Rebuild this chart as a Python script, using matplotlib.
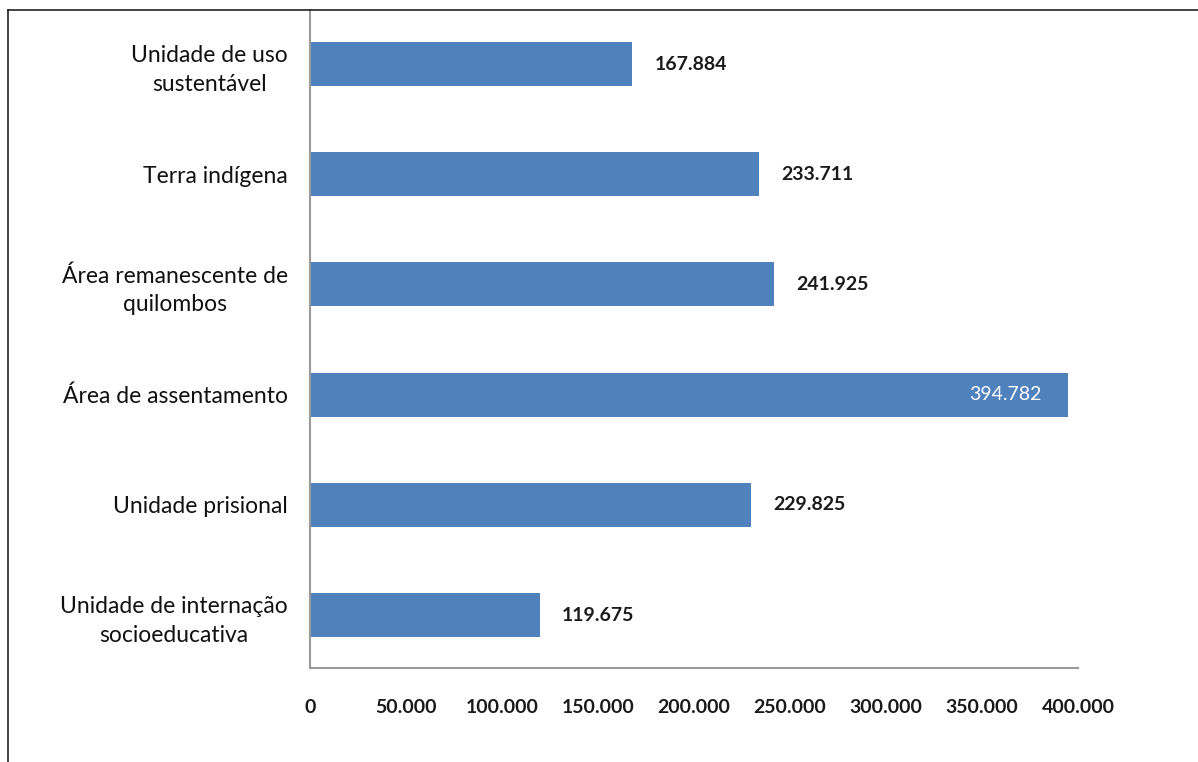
import matplotlib
matplotlib.use("Agg")
import matplotlib.pyplot as plt
from matplotlib.lines import Line2D
from matplotlib.ticker import FuncFormatter

plt.rcParams['font.family'] = ['Lato', 'DejaVu Sans']

# categorias de baixo para cima
categorias = [
    "Unidade de internação\nsocioeducativa",
    "Unidade prisional",
    "Área de assentamento",
    "Área remanescente de\nquilombos",
    "Terra indígena",
    "Unidade de uso\nsustentável",
]
valores = [119675, 229825, 394782, 241925, 233711, 167884]
rotulos = ["119.675", "229.825", "394.782", "241.925", "233.711", "167.884"]
ticks_x = [0, 50000, 100000, 150000, 200000, 250000, 300000, 350000, 400000]

cor_barra = "#4F81BD"
cor_eixo = "#9a9a9a"

fig = plt.figure(figsize=(11.98, 7.62), dpi=100)
ax = fig.add_axes([310 / 1198, 94 / 762, 768 / 1198, 658 / 762])

y = range(len(categorias))
ax.barh(y, valores, height=0.4, color=cor_barra)

ax.set_xlim(0, 400000)
ax.set_ylim(-0.48, 5.49)
ax.set_yticks(list(y))
ax.set_yticklabels(categorias, fontsize=16.5, color="#111111",
                   multialignment="center", linespacing=1.45)
ax.set_xticks(ticks_x)
ax.xaxis.set_major_formatter(FuncFormatter(lambda v, p: "0" if v == 0 else f"{int(v):,}".replace(",", ".")))
for t in ax.get_xticklabels():
    t.set_fontsize(14)
    t.set_fontweight("bold")
    t.set_color("#1a1a1a")
ax.tick_params(axis="y", length=0, pad=16)
ax.tick_params(axis="x", length=0, pad=22)

for s in ["top", "right"]:
    ax.spines[s].set_visible(False)
for s in ["left", "bottom"]:
    ax.spines[s].set_color(cor_eixo)
    ax.spines[s].set_linewidth(1.5)

# rótulos de valor: o maior fica dentro da barra, em branco
vmax = max(valores)
for i, (v, r) in enumerate(zip(valores, rotulos)):
    if v == vmax:
        ax.annotate(r, (v, i), xytext=(-19, 0), textcoords="offset points",
                    ha="right", va="center", color="white", fontsize=14)
    else:
        ax.annotate(r, (v, i), xytext=(16, 0), textcoords="offset points",
                    ha="left", va="center", color="#1a1a1a", fontsize=14,
                    fontweight="bold")

# moldura da página (esquerda e topo)
fig.add_artist(Line2D([8 / 1198, 8 / 1198], [0, 752 / 762], color="#222222", lw=1.2))
fig.add_artist(Line2D([8 / 1198, 1], [752 / 762, 752 / 762], color="#222222", lw=1.2))

fig.savefig("out.png", dpi=100, facecolor="white")
